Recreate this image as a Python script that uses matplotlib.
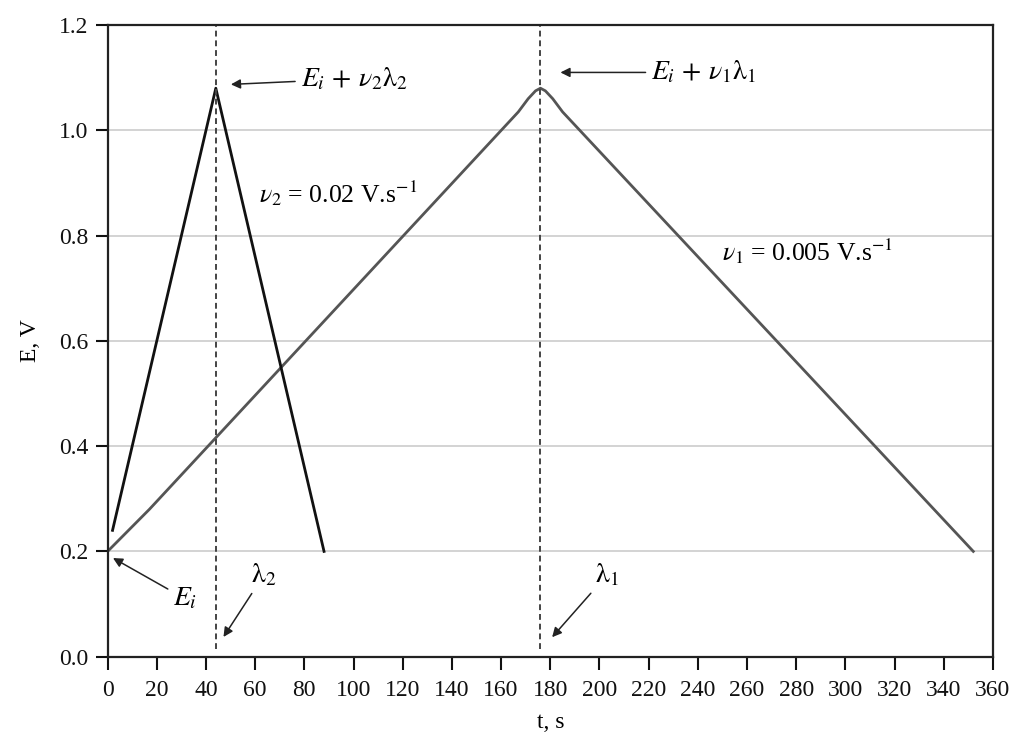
import matplotlib
matplotlib.use('Agg')
import matplotlib.pyplot as plt

plt.rcParams['font.family'] = 'Liberation Serif'
plt.rcParams['mathtext.fontset'] = 'stix'
plt.rcParams['font.size'] = 15

# fast sweep (v2 = 0.02 V/s)
t_fast = [2, 17, 44, 88]
e_fast = [0.24, 0.54, 1.08, 0.20]

# slow sweep (v1 = 0.005 V/s)
t_slow = [0, 17, 167, 171, 174, 176, 178, 181, 185, 352]
e_slow = [0.20, 0.28, 1.035, 1.06, 1.075, 1.08, 1.075, 1.06, 1.035, 0.20]

# switching times
lam2 = 44
lam1 = 176

x_ticks = list(range(0, 361, 20))
y_ticks = [0.0, 0.2, 0.4, 0.6, 0.8, 1.0, 1.2]

fig = plt.figure(figsize=(10.2, 7.37), dpi=100)
ax = fig.add_axes([0.1055, 0.109, 0.868, 0.857])

ax.grid(axis='y', color='#cccccc', lw=1.2)
ax.set_axisbelow(True)

ax.plot(t_slow, e_slow, color='#555555', lw=2)
ax.plot(t_fast, e_fast, color='#111111', lw=2)

for lam in (lam2, lam1):
    ax.plot([lam, lam], [0.015, 1.2], ls=(0, (3, 2)), color='#444444', lw=1.4)

ax.set_xlim(0, 360)
ax.set_ylim(0, 1.2)
ax.set_xticks(x_ticks)
ax.set_yticks(y_ticks)
ax.set_yticklabels([f'{v:.1f}' for v in y_ticks])
ax.tick_params(direction='out', length=9, width=1.5, labelsize=17, colors='#111111', pad=5)
ax.tick_params(axis='x', pad=8)
for s in ax.spines.values():
    s.set_linewidth(1.6)
    s.set_color('#222222')

ax.set_xlabel('t, s', fontsize=17, labelpad=8)
ax.set_ylabel('E, V', fontsize=17, labelpad=13)

arrow = dict(arrowstyle='-|>', color='#222222', lw=1.1, mutation_scale=14)
ax.annotate(r'$E_i\,+\,\nu_2\mathrm{\lambda}_2$', xy=(49, 1.087), xytext=(78.5, 1.098),
            va='center', ha='left', fontsize=20, arrowprops=arrow)
ax.annotate(r'$E_i\,+\,\nu_1\mathrm{\lambda}_1$', xy=(183, 1.11), xytext=(221, 1.11),
            va='center', ha='left', fontsize=20, arrowprops=arrow)
ax.text(61.5, 0.88, r'$\nu_2$ = 0.02 V.s$^{-1}$', va='center', ha='left', fontsize=18.5)
ax.text(250, 0.77, r'$\nu_1$ = 0.005 V.s$^{-1}$', va='center', ha='left', fontsize=18.5)
ax.annotate(r'$E_i$', xy=(1.2, 0.19), xytext=(31.5, 0.11),
            va='center', ha='center', fontsize=20, arrowprops=arrow)
ax.annotate(r'$\mathrm{\lambda}_2$', xy=(46.5, 0.033), xytext=(63.5, 0.155),
            va='center', ha='center', fontsize=20, arrowprops=arrow)
ax.annotate(r'$\mathrm{\lambda}_1$', xy=(180, 0.033), xytext=(203, 0.155),
            va='center', ha='center', fontsize=20, arrowprops=arrow)

fig.savefig('out.png', dpi=100, facecolor='white')
